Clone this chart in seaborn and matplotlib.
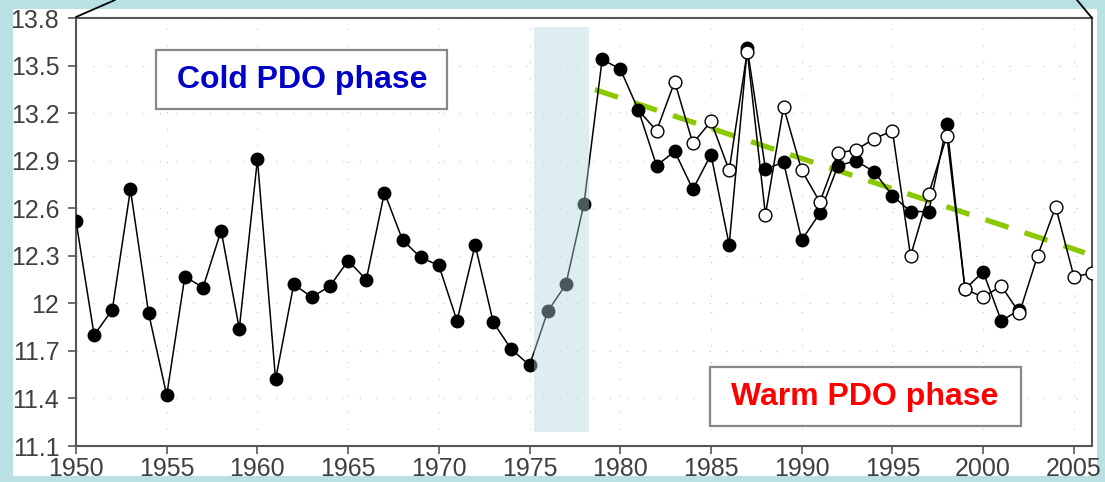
import numpy as np
import pandas as pd
import matplotlib
matplotlib.use("Agg")
import matplotlib.pyplot as plt
from matplotlib.patches import Rectangle
from matplotlib.lines import Line2D
import seaborn as sns

# ---------------- data ----------------
years_obs = list(range(1950, 2003))
values_obs = [12.52, 11.80, 11.96, 12.72, 11.94, 11.42, 12.17, 12.10, 12.46, 11.84,
              12.91, 11.52, 12.12, 12.04, 12.11, 12.27, 12.15, 12.70, 12.40, 12.29,
              12.24, 11.89, 12.37, 11.88, 11.71, 11.61, 11.95, 12.12, 12.63, 13.54,
              13.48, 13.22, 12.87, 12.96, 12.72, 12.94, 12.37, 13.61, 12.85, 12.89,
              12.40, 12.57, 12.87, 12.90, 12.83, 12.68, 12.58, 12.58, 13.13, 12.09,
              12.20, 11.89, 11.96]

years_alt = list(range(1981, 2007))
values_alt = [13.22, 13.09, 13.40, 13.01, 13.15, 12.84, 13.59, 12.56, 13.24, 12.84,
              12.64, 12.95, 12.97, 13.04, 13.09, 12.30, 12.69, 13.06, 12.09, 12.04,
              12.11, 11.94, 12.30, 12.61, 12.17, 12.19]

trend_years = [1978.6, 2005.6]
trend_values = [13.35, 12.32]

shift_span = [1975.25, 1978.25]

xticks = [1950, 1955, 1960, 1965, 1970, 1975, 1980, 1985, 1990, 1995, 2000, 2005]
yticks = [11.1, 11.4, 11.7, 12.0, 12.3, 12.6, 12.9, 13.2, 13.5, 13.8]
ytick_labels = ["11.1", "11.4", "11.7", "12", "12.3", "12.6", "12.9", "13.2", "13.5", "13.8"]

cold_label = "Cold PDO phase"
warm_label = "Warm PDO phase"

# ---------------- style ----------------
sns.set_theme(style="white")
plt.rcParams['font.family'] = ['Liberation Sans', 'DejaVu Sans']

W, H = 1105, 482
AXW, AXH = 1092 - 76, 446 - 18.3
fig = plt.figure(figsize=(W / 100, H / 100), dpi=100)
fig.patch.set_facecolor('#b9e0e3')
# inner white panel
fig.add_artist(Rectangle((13 / W, 1 - 476 / H), (1097 - 13) / W, (476 - 9) / H,
                         transform=fig.transFigure, facecolor='white',
                         edgecolor='none', zorder=-10))

ax = fig.add_axes([76 / W, 1 - 446 / H, AXW / W, AXH / H])
ax.set_zorder(1)
ax.set_facecolor('white')

df_obs = pd.DataFrame({"year": years_obs, "value": values_obs})
df_alt = pd.DataFrame({"year": years_alt, "value": values_alt})
df_trend = pd.DataFrame({"year": trend_years, "value": trend_values})

# trend line
sns.lineplot(data=df_trend, x="year", y="value", ax=ax, color='#8cc800',
             linewidth=3.8, zorder=2)
ax.lines[-1].set_dashes([4.6, 3.2])

# observed (filled circles)
sns.lineplot(data=df_obs, x="year", y="value", ax=ax, color='black',
             linewidth=1.1, marker='o', markersize=10, markeredgewidth=0,
             markerfacecolor='black', zorder=3)

# alternative (open circles)
sns.lineplot(data=df_alt, x="year", y="value", ax=ax, color='black',
             linewidth=1.1, marker='o', markersize=9.2, markeredgewidth=1.0,
             markerfacecolor='white', markeredgecolor='black',
             markevery=list(range(1, len(years_alt))), zorder=4)

# transition shading (drawn over the lines)
ax.axvspan(shift_span[0], shift_span[1], ymin=0.033, ymax=0.98,
           facecolor='#b2d8dc', alpha=0.42, edgecolor='none', zorder=5)

ax.set_xlim(1950, 2006)
ax.set_ylim(11.1, 13.8)
ax.set_xticks(xticks)
ax.set_xticklabels([str(t) for t in xticks])
ax.set_yticks(yticks)
ax.set_yticklabels(ytick_labels)
ax.set_xlabel("")
ax.set_ylabel("")

ax.grid(True, color='#c4c4c4', linewidth=0.8, linestyle=(0, (1, 14)))
ax.tick_params(axis='both', which='major', direction='out', length=6,
               width=1.2, color='#555555', labelsize=18, labelcolor='#404040',
               left=True, bottom=True)
ax.tick_params(axis='y', pad=6)
ax.tick_params(axis='x', pad=2)
for s in ax.spines.values():
    s.set_color('#555555')
    s.set_linewidth(1.5)
    s.set_visible(True)

# phase labels
ax.text((302 - 76) / AXW, (446 - 80) / AXH, cold_label, transform=ax.transAxes,
        ha='center', va='center', fontsize=23, fontweight='bold', color='#0000c8',
        zorder=6)
ax.add_patch(Rectangle(((156 - 76) / AXW, (446 - 109) / AXH), (447 - 156) / AXW,
                       (109 - 50) / AXH, transform=ax.transAxes, facecolor='white',
                       edgecolor='#888888', linewidth=1.6, zorder=5.5))
ax.text((865 - 76) / AXW, (446 - 397) / AXH, warm_label, transform=ax.transAxes,
        ha='center', va='center', fontsize=23, fontweight='bold', color='#ff0000',
        zorder=6)
ax.add_patch(Rectangle(((710 - 76) / AXW, (446 - 426) / AXH), (1021 - 710) / AXW,
                       (426 - 367) / AXH, transform=ax.transAxes, facecolor='white',
                       edgecolor='#888888', linewidth=1.6, zorder=5.5))

# callout lines at the top corners
fig.add_artist(Line2D([76 / W, 115 / W], [1 - 17 / H, 1.0], transform=fig.transFigure,
                      color='black', linewidth=1.3, zorder=2))
fig.add_artist(Line2D([1092 / W, 1077 / W], [1 - 18 / H, 1.0], transform=fig.transFigure,
                      color='black', linewidth=1.3, zorder=2))

fig.savefig("out.png", dpi=100, facecolor=fig.get_facecolor())
